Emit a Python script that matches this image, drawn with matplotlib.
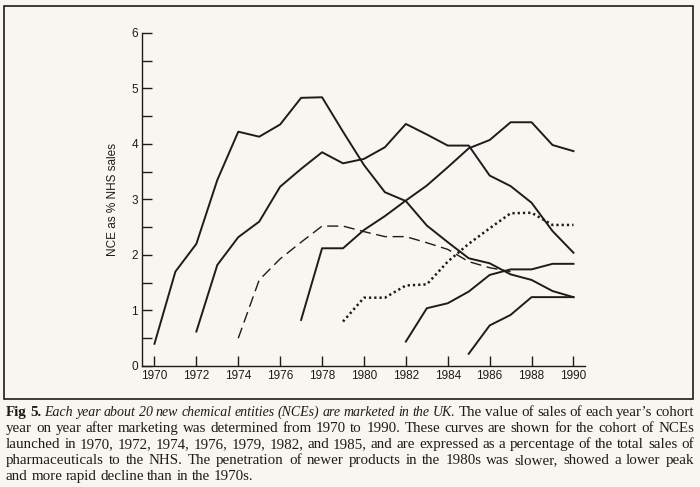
import numpy as np
from matplotlib import pyplot as plt
from matplotlib.patches import Rectangle

# -------------------------------------------------------------------------------
# data: NCE cohort sales as % of NHS sales

years_1970 = list(range(1970, 1991))
nce_1970 = [0.4, 1.7, 2.2, 3.35, 4.22, 4.13, 4.35, 4.83, 4.84, 4.22, 3.62,
            3.13, 2.97, 2.53, 2.23, 1.94, 1.85, 1.65, 1.55, 1.35, 1.24]

years_1972 = list(range(1972, 1991))
nce_1972 = [0.62, 1.82, 2.32, 2.6, 3.23, 3.55, 3.85, 3.65, 3.73, 3.94,
            4.36, 4.17, 3.97, 3.97, 3.43, 3.24, 2.94, 2.43, 2.04]

years_1974 = list(range(1974, 1988))
nce_1974 = [0.5, 1.55, 1.93, 2.23, 2.52, 2.52, 2.42, 2.33, 2.33, 2.22,
            2.1, 1.88, 1.77, 1.7]

years_1976 = list(range(1977, 1991))
nce_1976 = [0.83, 2.12, 2.12, 2.45, 2.7, 2.98, 3.25, 3.58, 3.92, 4.07,
            4.39, 4.39, 3.98, 3.87]

years_1979 = list(range(1979, 1991))
nce_1979 = [0.8, 1.23, 1.23, 1.45, 1.47, 1.88, 2.2, 2.48, 2.75, 2.76, 2.54, 2.54]

years_1982 = list(range(1982, 1991))
nce_1982 = [0.44, 1.04, 1.13, 1.34, 1.64, 1.74, 1.74, 1.84, 1.84]

years_1985 = list(range(1985, 1991))
nce_1985 = [0.22, 0.73, 0.92, 1.24, 1.24, 1.24]

x_ticks = list(range(1970, 1991, 2))
y_ticks = list(range(0, 7))

caption = [
    [('Fig', 'bold'), ('5.', 'bold')]
    + [(w, 'italic') for w in 'Each year about 20 new chemical entities (NCEs) are marketed in the UK.'.split()]
    + [(w, 'normal') for w in 'The value of sales of each year\u2019s cohort'.split()],
    [(w, 'normal') for w in 'year on year after marketing was determined from 1970 to 1990. These curves are shown for the cohort of NCEs'.split()],
    [(w, 'normal') for w in 'launched in 1970, 1972, 1974, 1976, 1979, 1982, and 1985, and are expressed as a percentage of the total sales of'.split()],
    [(w, 'normal') for w in 'pharmaceuticals to the NHS. The penetration of newer products in the 1980s was slower, showed a lower peak'.split()],
    [(w, 'normal') for w in 'and more rapid decline than in the 1970s.'.split()],
]

# -------------------------------------------------------------------------------
# figure

bg = '#f8f6f0'
ink = '#1c1c1c'

fig = plt.figure(figsize=(7, 4.87), dpi=100, facecolor=bg)
ax = fig.add_axes([0.203, 0.2485, 0.633, 0.684])
ax.set_facecolor(bg)

lw = 1.4
ax.plot(years_1970, nce_1970, '-', color=ink, lw=lw)
ax.plot(years_1972, nce_1972, '-', color=ink, lw=lw)
ax.plot(years_1974, nce_1974, '-', color=ink, lw=1.0, dashes=(8, 4))
ax.plot(years_1976, nce_1976, '-', color=ink, lw=lw)
ax.plot(years_1979, nce_1979, '-', color=ink, lw=1.8, dashes=(0.9, 1.2))
ax.plot(years_1982, nce_1982, '-', color=ink, lw=lw)
ax.plot(years_1985, nce_1985, '-', color=ink, lw=lw)

ax.set_xlim(1969.41, 1990.56)
ax.set_ylim(0, 6)
ax.spines['top'].set_visible(False)
ax.spines['right'].set_visible(False)
for s in ['left', 'bottom']:
    ax.spines[s].set_color(ink)
    ax.spines[s].set_linewidth(1.0)

ax.set_xticks(x_ticks)
ax.set_yticks(y_ticks)
ax.set_yticks(np.arange(0.5, 6, 1), minor=True)
ax.tick_params(axis='both', which='both', direction='in', color=ink, width=1.0,
               labelsize=8.5, labelcolor=ink)
ax.tick_params(axis='both', which='major', length=7, pad=3)
ax.tick_params(axis='y', which='minor', length=7)
for lab in ax.get_xticklabels() + ax.get_yticklabels():
    lab.set_family('Liberation Sans')

ax.set_ylabel('NCE as % NHS sales', family='Liberation Sans', fontsize=8.5,
              color=ink, labelpad=9)

# frame round the chart
fig.patches.append(Rectangle((0.0057, 0.181), 0.985, 0.807, transform=fig.transFigure,
                             fill=False, edgecolor=ink, lw=1.2))

# -------------------------------------------------------------------------------
# caption, justified word by word

fig.canvas.draw()
renderer = fig.canvas.get_renderer()
left_px, right_px = 6, 694
W, H = fig.bbox.width, fig.bbox.height
baselines = [416, 432, 448, 464, 480]

for i, words in enumerate(caption):
    texts = []
    for w, style in words:
        kw = dict(family='Liberation Serif', fontsize=10.8, color=ink, va='baseline', ha='left')
        if style == 'bold':
            kw['weight'] = 'bold'
        elif style == 'italic':
            kw['style'] = 'italic'
            kw['fontsize'] = 10.0
        texts.append(fig.text(0, 1 - baselines[i] / H, w, **kw))
    widths = [t.get_window_extent(renderer).width for t in texts]
    if i < len(caption) - 1:
        gap = (right_px - left_px - sum(widths)) / (len(texts) - 1)
    else:
        gap = 3.5
    x = left_px
    for t, wd in zip(texts, widths):
        t.set_x(x / W)
        x += wd + gap

fig.savefig('out.png', dpi=100, facecolor=bg)
